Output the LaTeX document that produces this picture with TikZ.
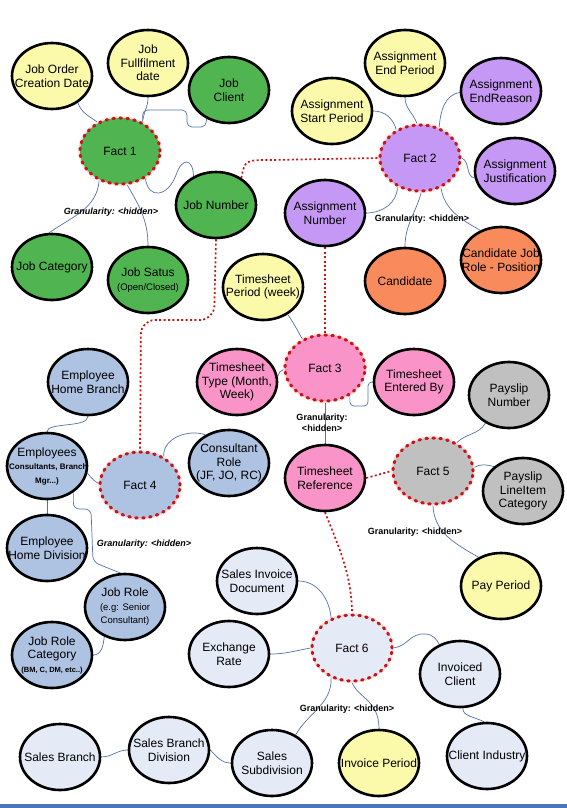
\documentclass[tikz,border=0pt]{standalone}
\usepackage{fontspec}
\setmainfont{Liberation Sans}
\usetikzlibrary{shapes.geometric}
\pgfdeclarelayer{bg}
\pgfdeclarelayer{paper}
\pgfsetlayers{paper,bg,main}
\definecolor{cyel}{RGB}{250,250,170}
\definecolor{cgrn}{RGB}{80,180,80}
\definecolor{cpur}{RGB}{198,152,245}
\definecolor{corg}{RGB}{248,138,92}
\definecolor{cpnk}{RGB}{250,148,200}
\definecolor{cstl}{RGB}{174,194,226}
\definecolor{cgry}{RGB}{192,192,192}
\definecolor{clbl}{RGB}{228,234,246}
\definecolor{cred}{RGB}{200,20,20}
\definecolor{cln}{RGB}{84,114,165}
\definecolor{cbar}{RGB}{74,120,182}
\newcommand\smr[1]{{\fontsize{9.5}{11}\selectfont #1}}
\newcommand\smb[1]{{\bfseries\fontsize{8}{9}\selectfont #1}}
\newcommand\smc[1]{{\bfseries\fontsize{7.5}{9}\selectfont #1}}
\begin{document}
\begin{tikzpicture}[x=1pt,y=-1pt,
 ent/.style={ellipse, draw=black, line width=2.6pt, minimum width=80pt, minimum height=66pt,
   inner xsep=-15pt, inner ysep=0pt, align=center, font=\fontsize{12}{13.5}\selectfont},
 fact/.style={ellipse, draw=cred, line width=3pt, dash pattern=on 1.6pt off 5.4pt, line cap=round,
   minimum width=80pt, minimum height=66pt, inner sep=0pt, font=\fontsize{12}{13.5}\selectfont,
   preaction={draw=cred!14, line width=3.6pt, solid}},
 con/.style={draw=cln, line width=0.7pt},
 rcon/.style={draw=cred, line width=1.7pt, dash pattern=on 2pt off 2.4pt},
 gran/.style={font=\bfseries\fontsize{9}{10.5}\selectfont, align=center, inner sep=0pt},
 grani/.style={gran, font=\bfseries\itshape\fontsize{9}{10.5}\selectfont}]
\useasboundingbox (0,0) rectangle (567,808);
\begin{pgfonlayer}{paper}
\fill[white] (0,0) rectangle (567,808);
\fill[cbar] (0,804) rectangle (567,808);
\end{pgfonlayer}
% nodes
\node[ent, fill=cyel] (jocd) at (52,76) {Job Order\\Creation Date};
\node[ent, fill=cyel] (jfd) at (148,63) {Job\\Fullfilment\\date};
\node[ent, fill=cgrn] (jc) at (229,90) {Job\\Client};
\node[fact, fill=cgrn] (f1) at (120,151) {Fact 1};
\node[ent, fill=cgrn] (jn) at (216,205) {Job Number};
\node[ent, fill=cgrn] (jcat) at (52,267) {Job Category};
\node[ent, fill=cgrn] (js) at (148,280) {Job Satus\\\smr{(Open/Closed)}};
\node[ent, fill=cyel] (aep) at (405,63) {Assignment\\End Period};
\node[ent, fill=cpur] (aer) at (501,91) {Assignment\\EndReason};
\node[ent, fill=cyel] (asp) at (332,111) {Assignment\\Start Period};
\node[fact, fill=cpur] (f2) at (420,158) {Fact 2};
\node[ent, fill=cpur] (aj) at (515,171) {Assignment\\Justification};
\node[ent, fill=cpur] (an) at (325,213) {Assignment\\Number};
\node[ent, fill=corg] (cand) at (405,281) {Candidate};
\node[ent, fill=corg] (cjr) at (501,260) {Candidate Job\\Role - Position};
\node[ent, fill=cyel] (tp) at (263,287) {Timesheet\\Period (week)};
\node[ent, fill=cstl] (ehb) at (88,382) {Employee\\Home Branch};
\node[ent, fill=cpnk] (tt) at (237,382) {Timesheet\\Type (Month,\\Week)};
\node[fact, fill=cpnk] (f3) at (325,368) {Fact 3};
\node[ent, fill=cpnk] (teb) at (414,382) {Timesheet\\Entered By};
\node[ent, fill=cgry] (pn) at (509,395) {Payslip\\Number};
\node[ent, fill=cstl] (emp) at (47,466) {Employees\\\smb{(Consultants, Branch}\\\smb{Mgr...)}};
\node[fact, fill=cstl] (f4) at (140,485) {Fact 4};
\node[ent, fill=cstl] (cr) at (229,463) {Consultant\\Role\\(JF, JO, RC)};
\node[ent, fill=cpnk] (tr) at (325,478) {Timesheet\\Reference};
\node[fact, fill=cgry] (f5) at (433,471) {Fact 5};
\node[ent, fill=cgry] (plc) at (523,491) {Payslip\\LineItem\\Category};
\node[ent, fill=cstl] (ehd) at (47,548) {Employee\\Home Division};
\node[ent, fill=cstl] (jr) at (125,607) {Job Role\\\smr{(e.g: Senior}\\\smr{Consultant)}};
\node[ent, fill=cstl] (jrc) at (52,655) {Job Role\\Category\\\smc{(BM, C, DM, etc..)}};
\node[ent, fill=clbl] (sid) at (257,581) {Sales Invoice\\Document};
\node[ent, fill=cyel] (pp) at (501,586) {Pay Period};
\node[ent, fill=clbl] (er) at (229,654) {Exchange\\Rate};
\node[fact, fill=clbl] (f6) at (352,648) {Fact 6};
\node[ent, fill=clbl] (ic) at (460,674) {Invoiced\\Client};
\node[ent, fill=clbl] (sb) at (60,757) {Sales Branch};
\node[ent, fill=clbl] (sbd) at (169,750) {Sales Branch\\Division};
\node[ent, fill=clbl] (ss) at (272,763) {Sales\\Subdivision};
\node[ent, fill=cyel] (ip) at (379,763) {Invoice Period};
\node[ent, fill=clbl] (ci) at (487,756) {Client Industry};
% granularity labels
\node[grani] (g1) at (111,212) {Granularity: <hidden>};
\node[gran] (g2) at (422,219) {Granularity: <hidden>};
\node[gran] (g3) at (322,423) {Granularity:\\<hidden>};
\node[grani] (g4) at (144,544) {Granularity: <hidden>};
\node[gran] (g5) at (415,532) {Granularity: <hidden>};
\node[gran] (g6) at (347,709) {Granularity: <hidden>};
% connectors
\begin{pgfonlayer}{bg}
\draw[con] (jocd.314) to[out=-70,in=145] (f1.128);
\draw[con] (jfd.south) to[out=-90,in=85] (f1.52);
\draw[con, rounded corners=5pt] (f1.52) |- (187,110) |- (206,127) -- (jc.232);
\draw[con] (f1.313) .. controls (148,200) and (168,197) .. (176,175) .. controls (182,157) and (193,158) .. (jn.128);
\draw[con] (f1.235) to[out=-95,in=35] (jcat.95);
\draw[con] (f1.282) to[out=-60,in=90] (js.north);
\draw[con] (asp.east) to[out=0,in=105] (f2.130);
\draw[con] (aep.south) to[out=-90,in=110] (f2.95);
\draw[con] (aer.182) to[out=190,in=85] (f2.58);
\draw[con] (f2.0) to[out=-20,in=170] (aj.190);
\draw[con] (f2.305) to[out=-80,in=150] (cjr.125);
\draw[con] (f2.272) to[out=-105,in=90] (cand.90);
\draw[con] (an.east) to[out=0,in=-90] (f2.232);
\draw[con] (tp.312) to[out=-55,in=120] (f3.128);
\draw[con] (tt.8) to[out=65,in=190] (f3.182);
\draw[con, rounded corners=4pt] (f3.312) |- (368,406) |- (teb.west);
\draw[con] (f3.south) -- (tr.north);
\draw[con] (pn.230) to[out=-120,in=45] (f5.50);
\draw[con] (f5.5) to[out=30,in=165] (plc.140);
\draw[con] (f5.south) to[out=-88,in=150] (pp.128);
\draw[con] (f4.50) to[out=95,in=160] (cr.130);
\draw[con] (emp.350) to[out=-50,in=150] (f4.178);
\draw[con] (ehb.south) .. controls (88,428) and (47,422) .. (emp.north);
\draw[con] (emp.south) -- (ehd.north);
\draw[con, rounded corners=6pt] (emp.315) |- (91,509) -- (93,562) -- (jr.98);
\draw[con] (jr.235) to[out=-95,in=0] (jrc.east);
\draw[con] (sid.east) to[out=0,in=95] (f6.125);
\draw[con] (er.east) to[out=0,in=190] (f6.west);
\draw[con] (f6.east) .. controls (408,646) and (410,633) .. (425,634) .. controls (433,634) and (437,640) .. (ic.125);
\draw[con] (ic.275) .. controls (462,716) and (475,717) .. (ci.95);
\draw[con] (f6.235) to[out=-88,in=60] (ss.50);
\draw[con] (f6.south) .. controls (358,698) and (379,700) .. (ip.north);
\draw[con] (sb.east) to[out=0,in=180] (sbd.west);
\draw[con] (sbd.east) to[out=-45,in=180] (ss.west);
% red dotted links between facts
\draw[rcon] (jn.47) .. controls (245,160) .. (272,160) -- (f2.west);
\draw[rcon, rounded corners=14pt] (jn.south) -- (214,320) -- (141,320) -- (f4.north);
\draw[rcon] (an.south) -- (f3.north);
\draw[rcon] (tr.east) -- (f5.west);
\draw[rcon] (tr.south) .. controls (338,545) and (352,575) .. (f6.north);
\end{pgfonlayer}
\end{tikzpicture}
\end{document}
